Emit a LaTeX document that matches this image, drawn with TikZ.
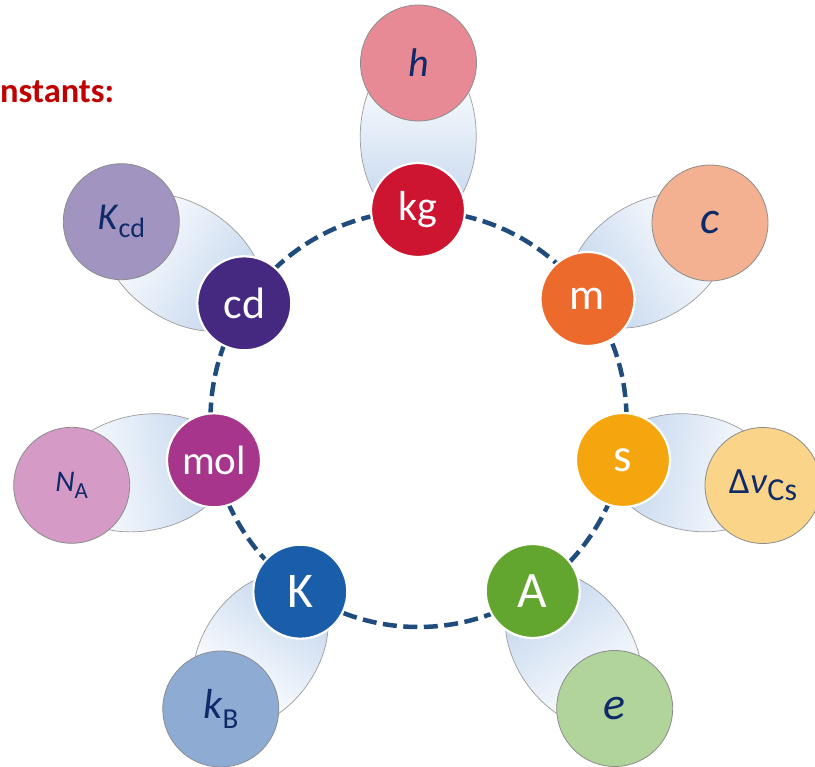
\documentclass[tikz,border=0pt]{standalone}
\usepackage{fontspec}
\setmainfont{Carlito}
\usetikzlibrary{calc,shapes.geometric,backgrounds}

\definecolor{rossoTitolo}{HTML}{C00000}
\definecolor{bluAnello}{HTML}{1F4B7D}
\definecolor{testoBlu}{HTML}{0F2A68}
\definecolor{bordoGrigio}{HTML}{8C8C8C}
\definecolor{bordoPonte}{HTML}{9C9C9C}
\definecolor{pillBlu}{HTML}{C3D6EE}
%% unita'
\definecolor{rossoKg}{HTML}{CD1431}
\definecolor{arancioM}{HTML}{EC6A2C}
\definecolor{gialloS}{HTML}{F5A50E}
\definecolor{verdeA}{HTML}{62A630}
\definecolor{bluK}{HTML}{1A5DA8}
\definecolor{violaMol}{HTML}{A6358B}
\definecolor{violaCd}{HTML}{45287F}
%% costanti
\definecolor{rosaH}{HTML}{E88A95}
\definecolor{pescaC}{HTML}{F4B192}
\definecolor{gialloNu}{HTML}{FAD488}
\definecolor{verdeE}{HTML}{B0D49A}
\definecolor{bluKB}{HTML}{8DABD3}
\definecolor{rosaNA}{HTML}{D59AC6}
\definecolor{lillaKcd}{HTML}{A294C1}

\pgfdeclarehorizontalshading{pillshade}{100bp}{color(0bp)=(white); color(30bp)=(white); color(72bp)=(pillBlu); color(100bp)=(pillBlu)}

%% pedice: abbassamento, corpo, testo
\newcommand{\pedice}[3]{\raisebox{-#1pt}{\fontsize{#2}{#2}\selectfont #3}}

\begin{document}
\begin{tikzpicture}[x=1pt, y=-1pt,
			anello/.style={line width=4.5pt, draw=bluAnello,
				dash pattern=on 14pt off 6.5pt},
			unita/.style={circle, fill=#1, draw=white, line width=2.2pt,
				minimum size=94pt, inner sep=0pt, text=white},
			costante/.style={circle, fill=#1, draw=bordoGrigio,
				line width=0.8pt, minimum size=116pt, inner sep=0pt,
				text=testoBlu},
			ponte/.style={ellipse, draw=bordoPonte, line width=0.7pt,
				shading=pillshade, minimum height=116pt, inner sep=0pt}]
			
			\useasboundingbox (0,0) rectangle (815,767);
			
			%% --- titolo (tagliato a sinistra) ---
			\node[anchor=base west, inner sep=0pt, text=rossoTitolo,
				font=\fontsize{34.5}{40}\selectfont\bfseries] (titolo) at (0,103) {nstants:};
			
			%% --- anello tratteggiato ---
			\coordinate (O) at (418.5,419);
			\draw[anello] (O) circle[radius=208];
			
			%% --- 7 unita' di base ---
			\node[unita=rossoKg,  font=\fontsize{42}{46}\selectfont] (kg)  at (418,210)   {kg};
			\node[unita=arancioM, font=\fontsize{44}{48}\selectfont] (m)   at (587.5,299) {m};
			\node[unita=gialloS,  font=\fontsize{47}{50}\selectfont] (s)   at (623,460)   {s};
			\node[unita=verdeA,   font=\fontsize{51}{54}\selectfont] (A)   at (532.7,591) {A};
			\node[unita=bluK,     font=\fontsize{50}{54}\selectfont] (K)   at (300.3,591.7) {K};
			\node[unita=violaMol, font=\fontsize{41}{44}\selectfont] (mol) at (214,460.3) {mol};
			\node[unita=violaCd,  font=\fontsize{44}{47}\selectfont] (cd)  at (244.3,303.3) {cd};
			
			%% --- 7 costanti ---
			\node[costante=rosaH,    font=\fontsize{40}{44}\selectfont] (h)   at (418.5,63)  {\itshape h};
			\node[costante=pescaC,   font=\fontsize{46}{50}\selectfont] (c)   at (710,223)   {\itshape c};
			\node[costante=gialloNu, font=\fontsize{37}{40}\selectfont] (dnu) at (763,485.5) {Δ\textit{ν}\pedice{7}{32}{Cs}};
			\node[costante=verdeE,   font=\fontsize{46}{50}\selectfont] (e)   at (614.7,708.5) {\itshape e};
			\node[costante=bluKB,    font=\fontsize{42}{46}\selectfont] (kB)  at (220.8,709)   {\textit{k}\pedice{10}{29}{B}};
			\node[costante=rosaNA,   font=\fontsize{30}{34}\selectfont] (NA)  at (71.7,485.3)  {\textit{N}\pedice{7}{23}{A}};
			\node[costante=lillaKcd, font=\fontsize{38}{42}\selectfont] (Kcd) at (121.3,221.7) {\textit{K}\pedice{8}{28}{cd}};
			
			%% --- ponti sfumati fra costante e unita' (sotto a tutto) ---
			\begin{scope}[on background layer]
				\foreach \u/\c in {kg/h, m/c, s/dnu, A/e, K/kB, mol/NA, cd/Kcd}
				\path let \p1=(\u), \p2=(\c),
					\n1={atan2(\y1-\y2,\x1-\x2)}, \n2={veclen(\x1-\x2,\y1-\y2)} in
					node[ponte, rotate=\n1, shading angle=\n1, minimum width=1.2*\n2] (ponte-\u) at ($(\u)!0.5!(\c)$) {};
			\end{scope}
			
		\end{tikzpicture}
\end{document}
